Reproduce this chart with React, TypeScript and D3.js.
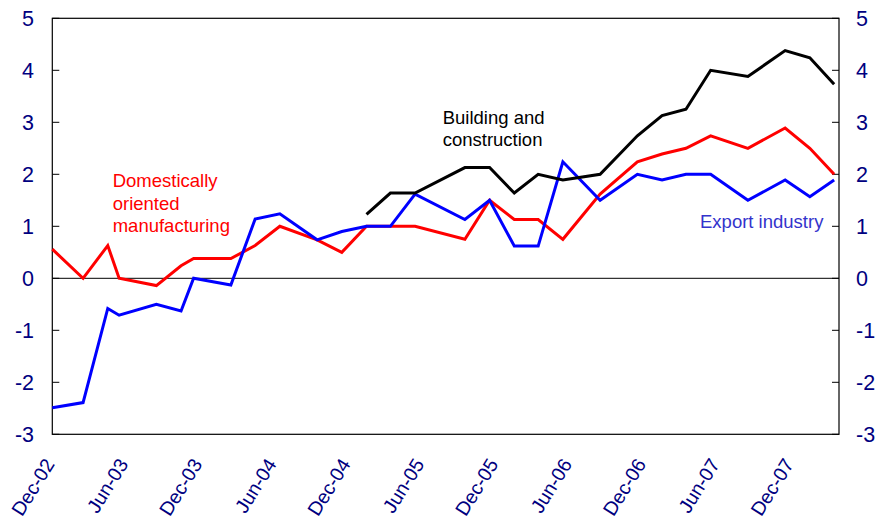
import React, { useRef, useEffect } from "react";
import * as d3 from "d3";

// survey dates (points are not evenly spaced)
const dates = [
  "2002-12-01", "2003-02-15", "2003-04-17", "2003-05-15", "2003-08-15", "2003-10-15",
  "2003-11-15", "2004-02-15", "2004-04-15", "2004-06-15", "2004-09-15", "2004-11-15",
  "2005-01-15", "2005-03-15", "2005-05-15", "2005-09-15", "2005-11-15", "2006-01-15",
  "2006-03-15", "2006-05-15", "2006-08-15", "2006-11-15", "2007-01-15", "2007-03-15",
  "2007-05-15", "2007-08-15", "2007-11-15", "2008-01-15", "2008-03-15",
];

const domestic = [
  0.56, 0.0, 0.63, 0.0, -0.14, 0.24, 0.38, 0.38, 0.63, 1.0, 0.74, 0.5,
  1.0, 1.0, 1.0, 0.75, 1.5, 1.13, 1.13, 0.75, 1.62, 2.24, 2.39, 2.5,
  2.74, 2.5, 2.89, 2.5, 2.0,
];

const exportInd = [
  -2.49, -2.39, -0.58, -0.71, -0.5, -0.63, 0.0, -0.13, 1.14, 1.24, 0.74, 0.9,
  1.0, 1.0, 1.62, 1.13, 1.5, 0.62, 0.62, 2.24, 1.5, 2.0, 1.89, 2.0,
  2.0, 1.5, 1.89, 1.57, 1.89,
];

const building: (number | null)[] = [
  null, null, null, null, null, null, null, null, null, null, null, null,
  1.23, 1.64, 1.64, 2.13, 2.13, 1.64, 2.0, 1.89, 2.0, 2.74, 3.13, 3.25,
  4.0, 3.88, 4.38, 4.24, 3.73,
];

const xTickLabels = [
  "Dec-02", "Jun-03", "Dec-03", "Jun-04", "Dec-04", "Jun-05",
  "Dec-05", "Jun-06", "Dec-06", "Jun-07", "Dec-07",
];

const yTicks = [-3, -2, -1, 0, 1, 2, 3, 4, 5];

const W = 881;
const H = 522;
const M = { left: 52.3, right: 839, top: 18.3, bottom: 434.3 };
const FONT = "Arial, 'Liberation Sans', sans-serif";
const AXIS_COLOR = "#000080";

const parse = d3.timeParse("%Y-%m-%d");
const parseLabel = d3.timeParse("%b-%y");

export default function App() {
  const svgRef = useRef<SVGSVGElement>(null);

  useEffect(() => {
    const svg = d3.select(svgRef.current);
    svg.selectAll("*").remove();

    const xScale = d3
      .scaleTime()
      .domain([parse("2002-12-01") as Date, parse("2008-03-27") as Date])
      .range([M.left, M.right]);
    const yScale = d3.scaleLinear().domain([-3, 5]).range([M.bottom, M.top]);

    // frame
    svg
      .append("rect")
      .attr("x", M.left)
      .attr("y", M.top)
      .attr("width", M.right - M.left)
      .attr("height", M.bottom - M.top)
      .attr("fill", "none")
      .attr("stroke", "#000")
      .attr("stroke-width", 1.2);

    // zero line
    svg
      .append("line")
      .attr("x1", M.left)
      .attr("x2", M.right)
      .attr("y1", yScale(0))
      .attr("y2", yScale(0))
      .attr("stroke", "#000")
      .attr("stroke-width", 1);

    // y ticks both sides, pointing inwards
    const gTicks = svg.append("g");
    yTicks.forEach((t) => {
      const y = yScale(t);
      gTicks.append("line").attr("x1", M.left).attr("x2", M.left + 7).attr("y1", y).attr("y2", y).attr("stroke", "#000");
      gTicks.append("line").attr("x1", M.right - 7).attr("x2", M.right).attr("y1", y).attr("y2", y).attr("stroke", "#000");
      gTicks
        .append("text")
        .attr("x", 34)
        .attr("y", y)
        .attr("dy", "0.36em")
        .attr("text-anchor", "end")
        .attr("font-family", FONT)
        .attr("font-size", 21.5)
        .attr("fill", AXIS_COLOR)
        .text(t);
      gTicks
        .append("text")
        .attr("x", 856)
        .attr("y", y)
        .attr("dy", "0.36em")
        .attr("text-anchor", "start")
        .attr("font-family", FONT)
        .attr("font-size", 21.5)
        .attr("fill", AXIS_COLOR)
        .text(t);
    });

    // x labels, rotated
    const gX = svg.append("g");
    xTickLabels.forEach((lab) => {
      const x = xScale(parseLabel(lab) as Date);
      gX
        .append("text")
        .attr("transform", `translate(${x + 3},${464}) rotate(-58)`)
        .attr("text-anchor", "end")
        .attr("font-family", FONT)
        .attr("font-size", 19.5)
        .attr("fill", AXIS_COLOR)
        .text(lab);
    });

    const series = [
      { values: domestic as (number | null)[], color: "#ff0000" },
      { values: exportInd as (number | null)[], color: "#0000ff" },
      { values: building, color: "#000000" },
    ];

    const line = d3
      .line<[Date, number | null]>()
      .defined((d) => d[1] !== null)
      .x((d) => xScale(d[0]))
      .y((d) => yScale(d[1] as number));

    series.forEach((s) => {
      const pts = dates.map((d, i) => [parse(d) as Date, s.values[i]] as [Date, number | null]);
      svg
        .append("path")
        .datum(pts)
        .attr("d", line)
        .attr("fill", "none")
        .attr("stroke", s.color)
        .attr("stroke-width", 3)
        .attr("stroke-linejoin", "miter");
    });

    // annotations
    const notes = [
      { lines: ["Domestically", "oriented", "manufacturing"], x: 112.7, y: 187.3, color: "#ff0000" },
      { lines: ["Building and", "construction"], x: 442.7, y: 124, color: "#000000" },
      { lines: ["Export industry"], x: 700, y: 227.7, color: "#3333cc" },
    ];
    notes.forEach((n) => {
      const t = svg
        .append("text")
        .attr("font-family", FONT)
        .attr("font-size", 18.5)
        .attr("fill", n.color);
      n.lines.forEach((l, i) => {
        t.append("tspan").attr("x", n.x).attr("y", n.y + i * 22.2).text(l);
      });
    });
  }, []);

  return (
    <div style={{ position: "absolute", left: 0, top: 0 }}>
      <svg ref={svgRef} width={W} height={H} style={{ display: "block", background: "#fff" }} />
    </div>
  );
}
